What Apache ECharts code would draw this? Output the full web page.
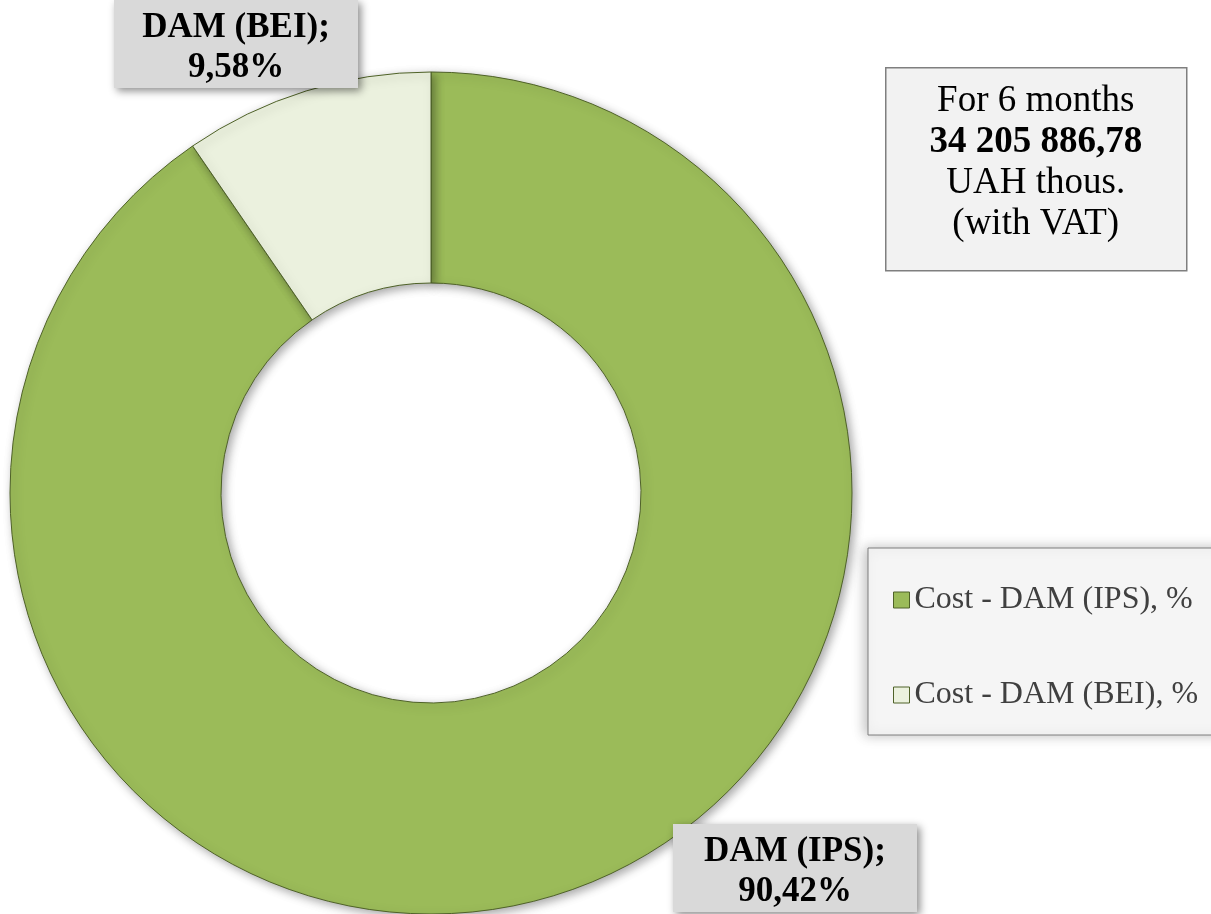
<!DOCTYPE html>
<html>
<head>
<meta charset="utf-8">
<script src="https://cdn.jsdelivr.net/npm/echarts@6/dist/echarts.min.js"></script>
<style>
html,body{margin:0;padding:0;background:#fff;}
#main{width:1211px;height:914px;}
</style>
</head>
<body>
<div id="main"></div>
<script>
const legendNames = ['Cost - DAM (IPS), %', 'Cost - DAM (BEI), %'];
const shortNames = ['DAM (IPS)', 'DAM (BEI)'];
const values = [90.42, 9.58];
const colors = ['#9BBB59', '#EBF1DE'];
const infoLines = ['For 6 months', '34 205 886,78', 'UAH thous.', '(with VAT)'];

const FONT = '"Liberation Serif", "Times New Roman", serif';
const chart = echarts.init(document.getElementById('main'));

const labelPos = [
  { x: 795, y: 824 },
  { x: 236, y: 0 }
];

chart.setOption({
  animation: false,
  backgroundColor: '#ffffff',
  legend: {
    orient: 'vertical',
    left: 868,
    top: 548,
    data: legendNames,
    icon: 'rect',
    itemWidth: 16,
    itemHeight: 16,
    itemGap: 63,
    padding: [36, 30, 24, 25],
    backgroundColor: '#F5F5F5',
    borderColor: '#7F7F7F',
    borderWidth: 1,
    shadowColor: 'rgba(0,0,0,0.25)',
    shadowBlur: 12,
    shadowOffsetX: -3,
    shadowOffsetY: 0,
    itemStyle: { borderColor: '#4F6228', borderWidth: 1 },
    textStyle: { fontFamily: FONT, fontSize: 32, color: '#404040', padding: [0, 0, 0, 0] }
  },
  series: [{
    type: 'pie',
    center: [431, 493],
    radius: [210, 421],
    startAngle: 90,
    clockwise: true,
    avoidLabelOverlap: false,
    itemStyle: {
      borderColor: '#4F6228',
      borderWidth: 1,
      shadowColor: 'rgba(0,0,0,0.35)',
      shadowBlur: 10,
      shadowOffsetX: 3,
      shadowOffsetY: 3
    },
    emphasis: { disabled: true },
    label: {
      show: true,
      position: 'outside',
      formatter: function (p) {
        return shortNames[p.dataIndex] + ';\n' + p.value.toFixed(2).replace('.', ',') + '%';
      },
      fontFamily: FONT,
      fontSize: 35,
      fontWeight: 'bold',
      color: '#000',
      lineHeight: 40,
      align: 'center',
      backgroundColor: '#D9D9D9',
      width: 220,
      padding: [8, 12, 0, 12],
      shadowColor: 'rgba(0,0,0,0.45)',
      shadowBlur: 8,
      shadowOffsetX: 3,
      shadowOffsetY: 3
    },
    labelLine: { show: false },
    labelLayout: function (params) {
      const p = labelPos[params.dataIndex];
      return { x: p.x, y: p.y, align: 'center', verticalAlign: 'top', hideOverlap: false };
    },
    data: values.map((v, i) => ({ name: legendNames[i], value: v, itemStyle: { color: colors[i] } }))
  }],
  graphic: [{
    type: 'group',
    left: 885,
    top: 67,
    children: [{
      type: 'rect',
      shape: { x: 0, y: 0, width: 301, height: 203 },
      style: { fill: '#F2F2F2', stroke: '#7F7F7F', lineWidth: 1.5 }
    }, {
      type: 'text',
      x: 150,
      y: 95,
      style: {
        text: '{n|' + infoLines[0] + '}\n{b|' + infoLines[1] + '}\n{n|' + infoLines[2] + '}\n{n|' + infoLines[3] + '}',
        align: 'center',
        verticalAlign: 'middle',
        rich: {
          n: { fontFamily: FONT, fontSize: 37, lineHeight: 41, fill: '#000', align: 'center' },
          b: { fontFamily: FONT, fontSize: 37, fontWeight: 'bold', lineHeight: 41, fill: '#000', align: 'center' }
        }
      }
    }]
  }]
});
</script>
</body>
</html>
